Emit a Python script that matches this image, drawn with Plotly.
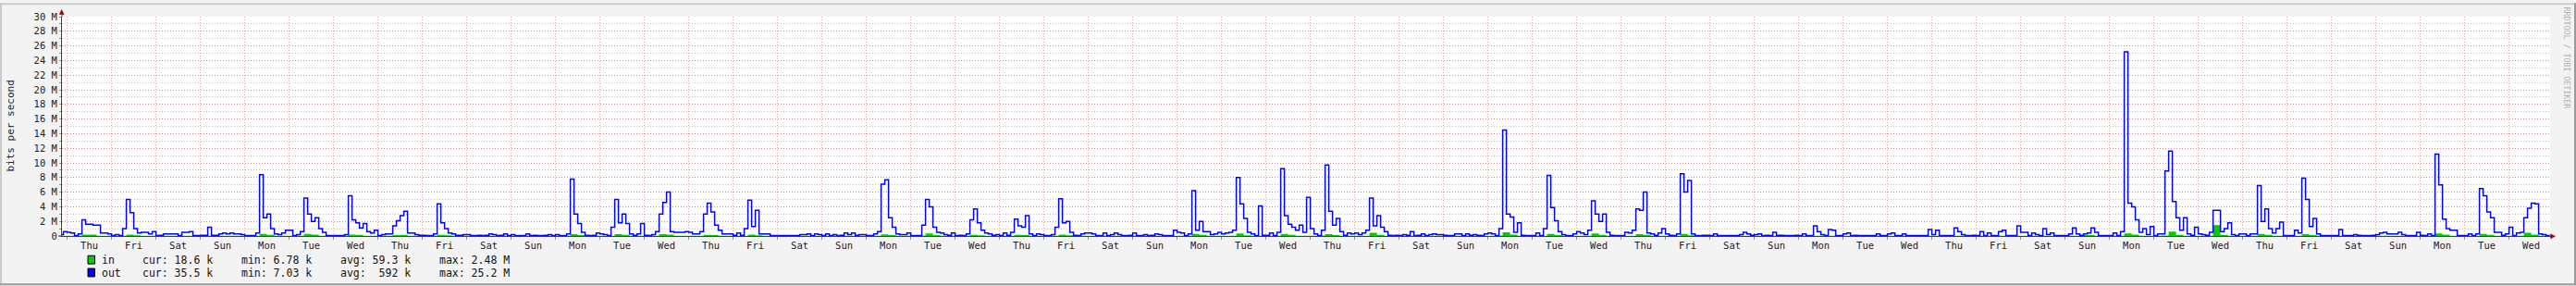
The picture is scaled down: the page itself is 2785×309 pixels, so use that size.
import plotly.graph_objects as go

# ---------------- figure geometry ----------------
W, H = 2785, 309
L, R, T, B = 67, 28, 15, 54

# ---------------- data ----------------
day_names = ["Thu", "Fri", "Sat", "Sun", "Mon", "Tue", "Wed"]
day_labels = day_names * 8          # 56 days shown

y_tick_labels = ["0", "2 M", "4 M", "6 M", "8 M", "10 M", "12 M", "14 M",
                 "16 M", "18 M", "20 M", "22 M", "24 M", "26 M", "28 M", "30 M"]
y_tick_values = [0, 2e6, 4e6, 6e6, 8e6, 10e6, 12e6, 14e6,
                 16e6, 18e6, 20e6, 22e6, 24e6, 26e6, 28e6, 30e6]

# outbound traffic, Mbit/s, 2-hour samples, one row per day (00-02h ... 22-24h)
out_pre = [0.2, 0.6]  # the two hours before the first Thursday
out_week1 = [
    [0.5, 0.4, 0.05, 0.3, 2.2, 1.6, 1.6, 1.5, 1.5, 0.4, 0.4, 0.3],    # Thu
    [0.05, 0.2, 0.05, 1.0, 5.0, 3.2, 1.0, 0.4, 0.5, 0.5, 0.3, 0.6],   # Fri
    [0.05, 0.1, 0.3, 0.3, 0.3, 0.3, 0.05, 0.5, 0.5, 0.6, 0.05, 0.05], # Sat
    [0.1, 0.1, 1.2, 0.1, 0.1, 0.3, 0.4, 0.3, 0.4, 0.3, 0.3, 0.2],     # Sun
    [0.05, 0.05, 0.05, 0.4, 8.4, 2.5, 3.0, 1.0, 0.3, 0.2, 0.4, 0.8],  # Mon
    [0.8, 0.05, 0.2, 0.6, 5.2, 3.0, 2.0, 2.5, 1.0, 0.5, 0.05, 0.05],  # Tue
    [0.05, 0.05, 0.05, 0.2, 5.5, 2.2, 1.8, 1.1, 1.7, 0.6, 0.4, 0.8],  # Wed
]
out_week2 = [
    [0.05, 0.2, 0.3, 0.3, 1.4, 2.1, 2.8, 3.4, 0.4, 0.4, 0.2, 0.1],
    [0.1, 0.05, 0.05, 0.3, 4.4, 1.8, 1.0, 0.4, 0.3, 0.1, 0.1, 0.2],
    [0.2, 0.05, 0.05, 0.1, 0.05, 0.1, 0.3, 0.2, 0.05, 0.1, 0.3, 0.05],
    [0.2, 0.05, 0.05, 0.05, 0.3, 0.05, 0.1, 0.05, 0.05, 0.1, 0.2, 0.05],
    [0.2, 0.05, 0.05, 0.3, 7.8, 3.0, 1.7, 0.5, 0.1, 0.05, 0.1, 0.4],
    [0.3, 0.2, 0.05, 1.2, 5.0, 1.8, 3.0, 1.7, 0.3, 0.1, 0.3, 1.7],
    [0.1, 0.05, 0.2, 0.6, 3.0, 4.6, 6.0, 0.6, 0.5, 0.5, 0.5, 0.6],
]
out_week3 = [
    [0.5, 0.3, 0.3, 0.6, 3.0, 4.5, 3.3, 1.5, 0.8, 0.3, 0.3, 0.3],
    [0.1, 0.4, 0.1, 1.0, 4.9, 1.3, 3.5, 0.3, 0.3, 0.3, 0.05, 0.05],
    [0.05, 0.05, 0.05, 0.05, 0.05, 0.05, 0.2, 0.2, 0.3, 0.05, 0.3, 0.2],
    [0.05, 0.3, 0.05, 0.2, 0.05, 0.1, 0.4, 0.2, 0.4, 0.1, 0.2, 0.2],
    [0.05, 0.05, 0.3, 0.6, 7.1, 7.7, 2.5, 1.2, 0.3, 0.2, 0.2, 0.4],
    [0.05, 0.05, 0.05, 1.5, 5.0, 4.0, 1.2, 0.5, 0.4, 0.2, 0.1, 0.4],
    [0.05, 0.1, 0.05, 0.3, 2.2, 3.7, 1.8, 0.8, 0.4, 0.3, 0.1, 0.2],
]
out_week4 = [
    [0.05, 0.4, 0.1, 0.5, 2.3, 1.4, 1.2, 2.8, 0.3, 0.05, 0.3, 0.2],
    [0.05, 0.05, 0.2, 1.2, 5.1, 1.8, 2.0, 0.5, 0.1, 0.05, 0.3, 0.4],
    [0.4, 0.3, 0.05, 0.05, 0.4, 0.05, 0.2, 0.4, 0.2, 0.05, 0.05, 0.1],
    [0.4, 0.05, 0.05, 0.2, 0.05, 0.1, 0.3, 0.2, 0.05, 0.05, 0.05, 0.8],
    [0.5, 0.4, 0.05, 0.3, 6.2, 0.8, 2.0, 0.6, 0.6, 0.2, 0.3, 0.5],
    [0.3, 0.4, 0.5, 0.8, 8.0, 4.4, 2.4, 0.5, 0.3, 0.05, 4.1, 0.1],
    [0.1, 0.4, 0.05, 0.5, 9.2, 2.8, 1.6, 1.2, 0.8, 1.5, 0.5, 5.3],
]
out_week5 = [
    [1.0, 0.3, 0.05, 0.8, 9.7, 3.4, 1.5, 2.4, 0.6, 0.1, 0.4, 0.3],
    [0.4, 0.2, 0.4, 0.8, 5.2, 1.4, 2.8, 1.2, 0.6, 0.1, 0.05, 0.1],
    [0.05, 0.2, 0.1, 0.6, 0.05, 0.1, 0.3, 0.05, 0.2, 0.3, 0.2, 0.2],
    [0.1, 0.05, 0.05, 0.3, 0.3, 0.05, 0.3, 0.1, 0.2, 0.1, 0.05, 0.3],
    [0.4, 0.3, 0.05, 1.0, 14.5, 3.0, 2.6, 0.5, 1.8, 0.1, 0.05, 0.05],
    [0.05, 0.4, 0.05, 1.0, 8.3, 3.9, 2.1, 0.6, 0.2, 0.05, 0.05, 0.3],
    [0.6, 0.4, 0.2, 0.8, 4.8, 3.0, 2.0, 3.0, 0.5, 0.1, 0.05, 0.05],
]
out_week6 = [
    [0.05, 0.5, 0.4, 0.8, 3.7, 3.5, 6.0, 0.4, 0.3, 0.1, 0.4, 1.0],
    [0.3, 0.1, 0.05, 0.3, 8.5, 6.0, 7.6, 0.3, 0.05, 0.05, 0.1, 0.1],
    [0.05, 0.3, 0.05, 0.05, 0.05, 0.05, 0.05, 0.05, 0.2, 0.5, 0.3, 0.1],
    [0.2, 0.3, 0.05, 0.1, 0.05, 0.5, 0.1, 0.1, 0.05, 0.05, 0.05, 0.1],
    [0.05, 0.3, 0.05, 0.05, 1.4, 0.6, 0.2, 0.05, 0.9, 0.8, 0.05, 0.05],
    [0.3, 0.4, 0.05, 0.1, 0.05, 0.05, 0.05, 0.05, 0.05, 0.3, 0.05, 0.05],
    [0.3, 0.4, 0.05, 0.05, 0.3, 0.05, 0.05, 0.05, 0.05, 0.05, 0.05, 0.9],
]
out_week7 = [
    [0.2, 0.8, 0.05, 0.05, 0.05, 0.05, 1.1, 0.6, 0.2, 0.05, 0.05, 0.1],
    [0.05, 0.6, 0.05, 0.4, 0.05, 0.05, 0.6, 0.8, 0.05, 0.05, 0.05, 1.4],
    [0.5, 0.5, 0.05, 0.4, 0.2, 0.05, 1.0, 0.2, 0.4, 0.05, 0.05, 0.05],
    [0.05, 0.3, 1.1, 0.3, 0.1, 0.3, 0.4, 1.1, 0.5, 0.05, 0.05, 0.05],
    [0.05, 0.4, 0.05, 0.6, 25.2, 4.5, 4.0, 2.2, 0.5, 1.0, 0.2, 1.3],
    [0.05, 0.3, 0.3, 8.9, 11.6, 4.7, 2.5, 0.8, 2.5, 0.3, 0.1, 1.2],
    [0.3, 0.2, 0.1, 0.5, 3.5, 3.5, 0.6, 1.0, 1.8, 0.2, 0.05, 0.3],
]
out_week8 = [
    [0.3, 0.05, 0.3, 0.3, 6.9, 2.0, 3.7, 1.0, 0.4, 1.0, 1.9, 0.05],
    [0.05, 0.05, 0.8, 0.4, 7.9, 5.0, 1.3, 2.4, 0.3, 0.05, 0.05, 0.05],
    [0.05, 0.05, 0.9, 0.05, 0.05, 0.05, 0.2, 0.1, 0.05, 0.05, 0.05, 0.1],
    [0.2, 0.4, 0.5, 0.3, 0.3, 0.3, 0.5, 0.2, 0.05, 0.05, 0.05, 0.5],
    [0.1, 0.05, 0.3, 0.05, 11.2, 7.0, 2.3, 1.0, 0.8, 0.8, 0.05, 0.05],
    [0.05, 0.3, 0.05, 0.3, 6.5, 5.5, 3.3, 2.5, 0.5, 0.5, 0.1, 0.3],
    [1.2, 0.05, 0.4, 0.5, 2.5, 3.8, 4.5, 4.4, 0.3, 0.2, 0.05],          # last day ends ~22h
]

# inbound traffic, Mbit/s, 4-hour samples, one row per day
in_pre = [0.02]
in_week1 = [
    [0.03, 0.03, 0.18, 0.18, 0.03, 0.02], [0.02, 0.03, 0.2, 0.1, 0.03, 0.02],
    [0.02, 0.02, 0.02, 0.02, 0.02, 0.02], [0.02, 0.02, 0.02, 0.02, 0.02, 0.02],
    [0.02, 0.02, 0.28, 0.15, 0.03, 0.02], [0.02, 0.03, 0.3, 0.2, 0.04, 0.02],
    [0.02, 0.03, 0.18, 0.15, 0.03, 0.02],
]
in_week2 = [
    [0.02, 0.02, 0.12, 0.15, 0.04, 0.02], [0.02, 0.02, 0.15, 0.08, 0.02, 0.02],
    [0.02, 0.02, 0.02, 0.02, 0.02, 0.02], [0.02, 0.02, 0.02, 0.02, 0.02, 0.02],
    [0.02, 0.03, 0.25, 0.12, 0.02, 0.02], [0.02, 0.03, 0.25, 0.15, 0.03, 0.02],
    [0.02, 0.03, 0.25, 0.18, 0.03, 0.02],
]
in_week3 = [
    [0.02, 0.03, 0.15, 0.12, 0.03, 0.02], [0.02, 0.03, 0.18, 0.1, 0.02, 0.02],
    [0.02, 0.02, 0.02, 0.02, 0.02, 0.02], [0.02, 0.02, 0.02, 0.02, 0.02, 0.02],
    [0.02, 0.03, 0.22, 0.12, 0.02, 0.02], [0.02, 0.05, 0.35, 0.12, 0.03, 0.02],
    [0.02, 0.03, 0.15, 0.1, 0.02, 0.02],
]
in_week4 = [
    [0.02, 0.03, 0.15, 0.12, 0.02, 0.02], [0.02, 0.03, 0.2, 0.08, 0.02, 0.02],
    [0.02, 0.02, 0.02, 0.02, 0.02, 0.02], [0.02, 0.02, 0.02, 0.02, 0.02, 0.02],
    [0.02, 0.03, 0.3, 0.15, 0.03, 0.02], [0.02, 0.03, 0.35, 0.1, 0.03, 0.02],
    [0.02, 0.03, 0.3, 0.15, 0.03, 0.02],
]
in_week5 = [
    [0.02, 0.05, 0.25, 0.12, 0.03, 0.02], [0.02, 0.03, 0.45, 0.15, 0.02, 0.02],
    [0.02, 0.02, 0.02, 0.02, 0.02, 0.02], [0.02, 0.02, 0.02, 0.02, 0.02, 0.02],
    [0.02, 0.05, 0.5, 0.2, 0.03, 0.02], [0.02, 0.03, 0.3, 0.12, 0.02, 0.02],
    [0.02, 0.03, 0.35, 0.15, 0.02, 0.02],
]
in_week6 = [
    [0.02, 0.03, 0.25, 0.15, 0.02, 0.02], [0.02, 0.03, 0.3, 0.1, 0.02, 0.02],
    [0.02, 0.02, 0.02, 0.02, 0.02, 0.02], [0.02, 0.02, 0.02, 0.02, 0.02, 0.02],
    [0.02, 0.02, 0.03, 0.03, 0.02, 0.02], [0.02, 0.02, 0.02, 0.02, 0.02, 0.02],
    [0.02, 0.02, 0.02, 0.02, 0.02, 0.02],
]
in_week7 = [
    [0.02, 0.02, 0.02, 0.04, 0.02, 0.02], [0.02, 0.02, 0.02, 0.02, 0.02, 0.02],
    [0.02, 0.02, 0.02, 0.02, 0.02, 0.02], [0.02, 0.02, 0.12, 0.12, 0.02, 0.02],
    [0.02, 0.03, 0.35, 0.2, 0.03, 0.02], [0.02, 0.05, 0.6, 0.15, 0.03, 0.02],
    [0.02, 0.03, 1.5, 0.15, 0.02, 0.02],
]
in_week8 = [
    [0.02, 0.03, 0.3, 0.15, 0.02, 0.02], [0.02, 0.03, 0.25, 0.12, 0.02, 0.02],
    [0.02, 0.02, 0.02, 0.02, 0.02, 0.02], [0.02, 0.02, 0.02, 0.02, 0.02, 0.02],
    [0.02, 0.03, 0.35, 0.2, 0.03, 0.02], [0.02, 0.03, 0.3, 0.15, 0.02, 0.02],
    [0.02, 0.03, 0.45, 0.2, 0.02, 0.02],
]

legend_in = ["cur: 18.6 k", "min: 6.78 k", "avg: 59.3 k", "max: 2.48 M"]
legend_out = ["cur: 35.5 k", "min: 7.03 k", "avg:\u00a0\u00a0592 k", "max: 25.2 M"]

# ---------------- assemble series ----------------
OUT_STEP, IN_STEP = 2, 4        # hours per sample
out_vals = list(out_pre)
for wk in (out_week1, out_week2, out_week3, out_week4, out_week5, out_week6, out_week7, out_week8):
    for day in wk:
        out_vals.extend(day)
in_vals = list(in_pre)
for wk in (in_week1, in_week2, in_week3, in_week4, in_week5, in_week6, in_week7, in_week8):
    for day in wk:
        in_vals.extend(day)

out_x = [-OUT_STEP * len(out_pre) + OUT_STEP * i for i in range(len(out_vals))]
out_x.append(out_x[-1] + OUT_STEP)
out_y = [v * 1e6 for v in out_vals] + [out_vals[-1] * 1e6]
in_x = [-IN_STEP * len(in_pre) + IN_STEP * i for i in range(len(in_vals))]
in_x.append(in_x[-1] + IN_STEP)
in_y = [v * 1e6 for v in in_vals] + [in_vals[-1] * 1e6]

x_start, x_end = -2.8, 1342.2      # hours relative to first Thursday 00:00

MONO = "DejaVu Sans Mono"
fig = go.Figure()
fig.add_trace(go.Scatter(x=in_x, y=in_y, mode="lines", fill="tozeroy",
                         line=dict(color="#00CC00", width=0, shape="hv"),
                         fillcolor="#00CC00", hoverinfo="skip", showlegend=False))
fig.add_trace(go.Scatter(x=out_x, y=out_y, mode="lines",
                         line=dict(color="#0000FF", width=1.5, shape="hv"),
                         hoverinfo="skip", showlegend=False))

MAJ = "rgba(230,100,100,0.6)"
MIN = "rgba(160,150,150,0.6)"

fig.update_xaxes(
    range=[x_start, x_end],
    tickmode="array",
    tickvals=[12 + 24 * d for d in range(len(day_labels))],
    ticktext=day_labels,
    ticks="", showgrid=False, zeroline=False,
    showline=True, linecolor="#404040", linewidth=1,
    tickfont=dict(family=MONO, size=10.5, color="#222222"),
    minor=dict(tickmode="array", tickvals=[24 * d for d in range(len(day_labels))],
               ticks="outside", ticklen=3, tickcolor="#909090",
               showgrid=True, gridcolor=MAJ, griddash="1px,2px", gridwidth=1),
    fixedrange=True,
)
fig.update_yaxes(
    range=[0, 30e6],
    tickmode="array", tickvals=y_tick_values, ticktext=y_tick_labels,
    ticks="outside", ticklen=2, tickcolor="#909090",
    showgrid=True, gridcolor=MAJ, griddash="1px,2px", gridwidth=1,
    zeroline=False, showline=True, linecolor="#404040", linewidth=1,
    tickfont=dict(family=MONO, size=10.5, color="#222222"),
    minor=dict(dtick=1e6, tick0=0, ticks="outside", ticklen=2, tickcolor="#909090",
               showgrid=True, gridcolor=MIN, griddash="1px,2px", gridwidth=1),
    fixedrange=True,
)

PW, PH = W - L - R, H - T - B
def PX(px):
    return (px - L) / PW
def PY(py):
    return (H - B - py) / PH

shapes = []
# frame shading
shapes.append(dict(type="rect", xref="paper", yref="paper", x0=PX(0), x1=PX(W), y0=PY(0), y1=PY(2),
                   fillcolor="#CBCBCB", line=dict(width=0), layer="above"))
shapes.append(dict(type="rect", xref="paper", yref="paper", x0=PX(0), x1=PX(2), y0=PY(0), y1=PY(H),
                   fillcolor="#CBCBCB", line=dict(width=0), layer="above"))
shapes.append(dict(type="rect", xref="paper", yref="paper", x0=PX(0), x1=PX(W), y0=PY(H - 2), y1=PY(H),
                   fillcolor="#9A9A9A", line=dict(width=0), layer="above"))
shapes.append(dict(type="rect", xref="paper", yref="paper", x0=PX(W - 2), x1=PX(W), y0=PY(0), y1=PY(H),
                   fillcolor="#9A9A9A", line=dict(width=0), layer="above"))
# axis extensions and arrows
shapes.append(dict(type="line", xref="paper", yref="paper", x0=0, x1=0, y0=1, y1=PY(11),
                   line=dict(color="#404040", width=1)))
shapes.append(dict(type="line", xref="paper", yref="paper", x0=1, x1=PX(2758), y0=0, y1=0,
                   line=dict(color="#404040", width=1)))
shapes.append(dict(type="line", xref="paper", yref="paper", x0=PX(63), x1=0, y0=0, y1=0,
                   line=dict(color="#404040", width=1)))
shapes.append(dict(type="path", xref="paper", yref="paper",
                   path=f"M {PX(64.2)},{PY(12.5)} L {PX(69.2)},{PY(12.5)} L {PX(66.7)},{PY(7.5)} Z",
                   fillcolor="#A00000", line=dict(color="#A00000", width=0.5)))
shapes.append(dict(type="path", xref="paper", yref="paper",
                   path=f"M {PX(2757.5)},{PY(252.8)} L {PX(2757.5)},{PY(257.8)} L {PX(2762.5)},{PY(255.3)} Z",
                   fillcolor="#A00000", line=dict(color="#A00000", width=0.5)))
# legend swatches
for row_y, col in ((281, "#00CC00"), (295, "#0000FF")):
    shapes.append(dict(type="rect", xref="paper", yref="paper",
                       x0=PX(95), x1=PX(102.5), y0=PY(row_y - 4.5), y1=PY(row_y + 4.5),
                       fillcolor=col, line=dict(color="#000000", width=1)))

annotations = []
annotations.append(dict(text="bits per second", xref="paper", yref="paper", x=PX(11), y=PY(135),
                        textangle=-90, showarrow=False, xanchor="center", yanchor="middle",
                        font=dict(family=MONO, size=11, color="#222222")))
annotations.append(dict(text="RRDTOOL / TOBI OETIKER", xref="paper", yref="paper", x=PX(2775), y=PY(60),
                        textangle=90, showarrow=False, xanchor="center", yanchor="middle",
                        font=dict(family=MONO, size=8.3, color="#B0B0B0")))
cols_x = [153, 260, 367, 474]
for row_y, name, stats in ((281, "in", legend_in), (295, "out", legend_out)):
    annotations.append(dict(text=name, xref="paper", yref="paper", x=PX(108), y=PY(row_y),
                            showarrow=False, xanchor="left", yanchor="middle",
                            font=dict(family=MONO, size=11.5, color="#111111")))
    for cx, s in zip(cols_x, stats):
        annotations.append(dict(text=s, xref="paper", yref="paper", x=PX(cx - 1), y=PY(row_y),
                                showarrow=False, xanchor="left", yanchor="middle",
                                font=dict(family=MONO, size=11.5, color="#111111")))

fig.update_layout(
    width=W, height=H, autosize=False,
    margin=dict(l=L, r=R, t=T, b=B, pad=0),
    paper_bgcolor="#F3F3F3", plot_bgcolor="#FFFFFF",
    shapes=shapes, annotations=annotations,
    showlegend=False,
)

fig.write_html("out.html", config={"displayModeBar": False, "staticPlot": True})
